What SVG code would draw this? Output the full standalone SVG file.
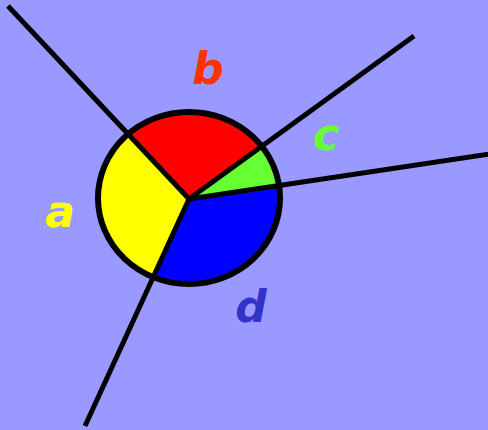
<svg xmlns="http://www.w3.org/2000/svg" width="488" height="430" viewBox="0 0 488 430">
<defs>
<clipPath id="pieclip"><ellipse cx="189" cy="198" rx="91" ry="86"/></clipPath>
</defs>
<style>
.ln{stroke:#000;stroke-width:5;fill:none}
.rim{stroke:#000;stroke-width:6;fill:none}
.sec{stroke:none}
.lbl{font-family:"DejaVu Sans",sans-serif;font-weight:bold;font-size:44px;text-anchor:middle;font-style:oblique}
</style>
<rect width="488" height="430" fill="#9999ff"/>
<g id="pie" clip-path="url(#pieclip)">
<polygon class="sec" fill="#ffff00" points="189,199 8,6 0,6 0,426 85,426"/>
<polygon class="sec" fill="#ff0000" points="189,199 8,6 8,0 414,0 414,36"/>
<polygon class="sec" fill="#66ff33" points="189,199 414,36 488,36 488,154"/>
<polygon class="sec" fill="#0000ff" points="189,199 488,154 488,430 85,430 85,426"/>
</g>
<g id="connectors">
<line class="ln" x1="8" y1="6" x2="189" y2="199"/>
<line class="ln" x1="414" y1="36" x2="189" y2="199"/>
<line class="ln" x1="490" y1="154" x2="189" y2="199"/>
<line class="ln" x1="85" y1="426" x2="189" y2="199"/>
<ellipse class="rim" cx="189" cy="198" rx="91" ry="86"/>
</g>
<g id="a"><text class="lbl" x="60" y="227" fill="#ffff00">a</text></g>
<g id="b"><text class="lbl" x="208" y="84" fill="#ff3300">b</text></g>
<g id="c"><text class="lbl" x="326" y="150" fill="#66ff33">c</text></g>
<g id="d"><text class="lbl" x="251" y="322" fill="#3333cc">d</text></g>
</svg>
